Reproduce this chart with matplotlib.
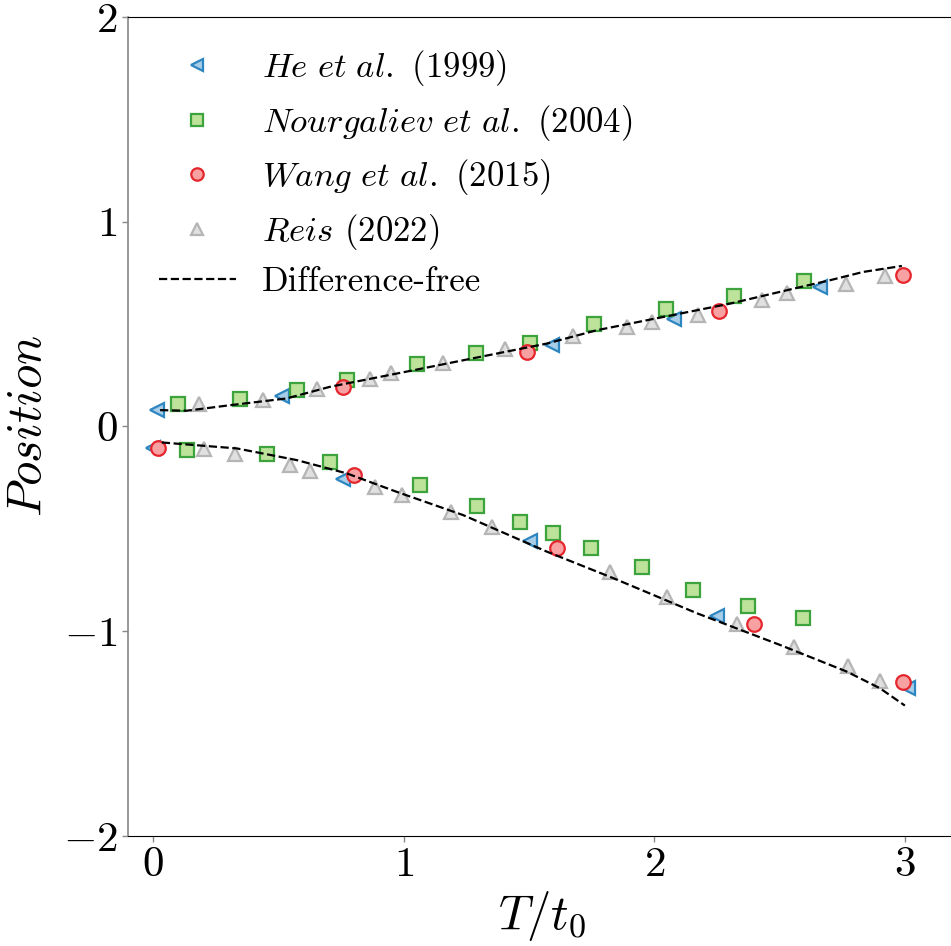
import matplotlib
matplotlib.use("Agg")
import matplotlib.pyplot as plt

plt.rcParams['mathtext.fontset'] = 'cm'
plt.rcParams['font.family'] = 'serif'
plt.rcParams['font.serif'] = ['cmr10', 'DejaVu Serif']
plt.rcParams['axes.formatter.use_mathtext'] = True

# He et al. (1999)
he_up_x = [0.015, 0.513, 1.591, 2.079, 2.662]
he_up_y = [0.08, 0.148, 0.40, 0.527, 0.68]
he_lo_x = [0.0, 0.757, 1.504, 2.249, 3.014]
he_lo_y = [-0.104, -0.254, -0.56, -0.924, -1.275]

# Nourgaliev et al. (2004)
no_up_x = [0.10, 0.347, 0.573, 0.775, 1.055, 1.288, 1.504, 1.76, 2.047, 2.318, 2.599]
no_up_y = [0.109, 0.133, 0.18, 0.226, 0.307, 0.36, 0.41, 0.502, 0.572, 0.637, 0.709]
no_lo_x = [0.137, 0.454, 0.706, 1.065, 1.292, 1.464, 1.595, 1.748, 1.95, 2.156, 2.375, 2.595]
no_lo_y = [-0.115, -0.132, -0.172, -0.286, -0.387, -0.468, -0.522, -0.595, -0.685, -0.798, -0.875, -0.937]

# Wang et al. (2015)
wa_up_x = [0.757, 1.491, 2.26, 2.992]
wa_up_y = [0.194, 0.364, 0.563, 0.738]
wa_lo_x = [0.021, 0.80, 1.613, 2.398, 2.994]
wa_lo_y = [-0.104, -0.237, -0.592, -0.966, -1.25]

# Reis (2022)
re_up_x = [0.185, 0.438, 0.653, 0.866, 0.948, 1.158, 1.405, 1.675, 1.893, 1.99, 2.176, 2.429, 2.529, 2.765, 2.921]
re_up_y = [0.11, 0.128, 0.185, 0.231, 0.259, 0.31, 0.377, 0.44, 0.486, 0.51, 0.546, 0.616, 0.654, 0.694, 0.735]
re_lo_x = [0.204, 0.327, 0.547, 0.626, 0.886, 0.992, 1.19, 1.352, 1.824, 2.052, 2.329, 2.558, 2.775, 2.90]
re_lo_y = [-0.11, -0.132, -0.189, -0.218, -0.294, -0.335, -0.416, -0.489, -0.712, -0.831, -0.966, -1.078, -1.17, -1.242]

# Difference-free
df_up_x = [0.028, 0.134, 0.307, 0.533, 0.706, 1.04, 1.305, 1.571, 1.77, 2.036, 2.302, 2.569, 2.70, 2.834, 2.988]
df_up_y = [0.08, 0.077, 0.104, 0.137, 0.194, 0.275, 0.34, 0.405, 0.47, 0.535, 0.60, 0.677, 0.714, 0.755, 0.784]
df_lo_x = [0.035, 0.334, 0.573, 0.773, 0.972, 1.238, 1.571, 1.837, 2.17, 2.502, 2.768, 2.90, 3.0]
df_lo_y = [-0.078, -0.107, -0.164, -0.229, -0.319, -0.433, -0.611, -0.741, -0.912, -1.067, -1.197, -1.278, -1.363]

series = [
    (he_up_x, he_up_y, he_lo_x, he_lo_y, '<', '#a8cde8', '#2e86c1', r'$He\ et\ al.$ (1999)'),
    (no_up_x, no_up_y, no_lo_x, no_lo_y, 's', '#bde39a', '#3da33d', r'$Nourgaliev\ et\ al.$ (2004)'),
    (wa_up_x, wa_up_y, wa_lo_x, wa_lo_y, 'o', '#f7a1a3', '#e5262d', r'$Wang\ et\ al.$ (2015)'),
    (re_up_x, re_up_y, re_lo_x, re_lo_y, '^', '#e0e0e0', '#b5b5b5', r'$Reis$ (2022)'),
]

fig = plt.figure(figsize=(9.51, 9.46), dpi=100)
ax = fig.add_axes([128 / 951, 110 / 946, 827 / 951, 819 / 946])

for ux, uy, lx, ly, m, fc, ec, lab in series:
    kw = dict(marker=m, linestyle='none', markersize=10.5, markerfacecolor=fc,
              markeredgecolor=ec, markeredgewidth=1.6)
    ax.plot(ux, uy, label=lab, **kw)
    ax.plot(lx, ly, **kw)

ax.plot(df_up_x, df_up_y, 'k--', lw=1.6, label='Difference-free')
ax.plot(df_lo_x, df_lo_y, 'k--', lw=1.6)

ax.set_xlim(-0.1, 3.2)
ax.set_ylim(-2, 2)
ax.set_xticks([0, 1, 2, 3])
ax.set_yticks([-2, -1, 0, 1, 2])
ax.tick_params(labelsize=31, color='#888888', length=4, width=1)
ax.spines['right'].set_visible(False)
ax.spines['left'].set_color('#888888')
ax.spines['left'].set_linewidth(1.2)
ax.set_xlabel(r'$T/t_0$', fontsize=35, labelpad=4)
ax.set_ylabel(r'$Position$', fontsize=35)
ax.yaxis.set_label_coords(-0.093, 0.5)

ax.legend(loc='upper left', fontsize=25, frameon=False, markerscale=0.85,
          handlelength=2.2, handletextpad=0.75, labelspacing=0.42)

fig.savefig('out.png', dpi=100)
